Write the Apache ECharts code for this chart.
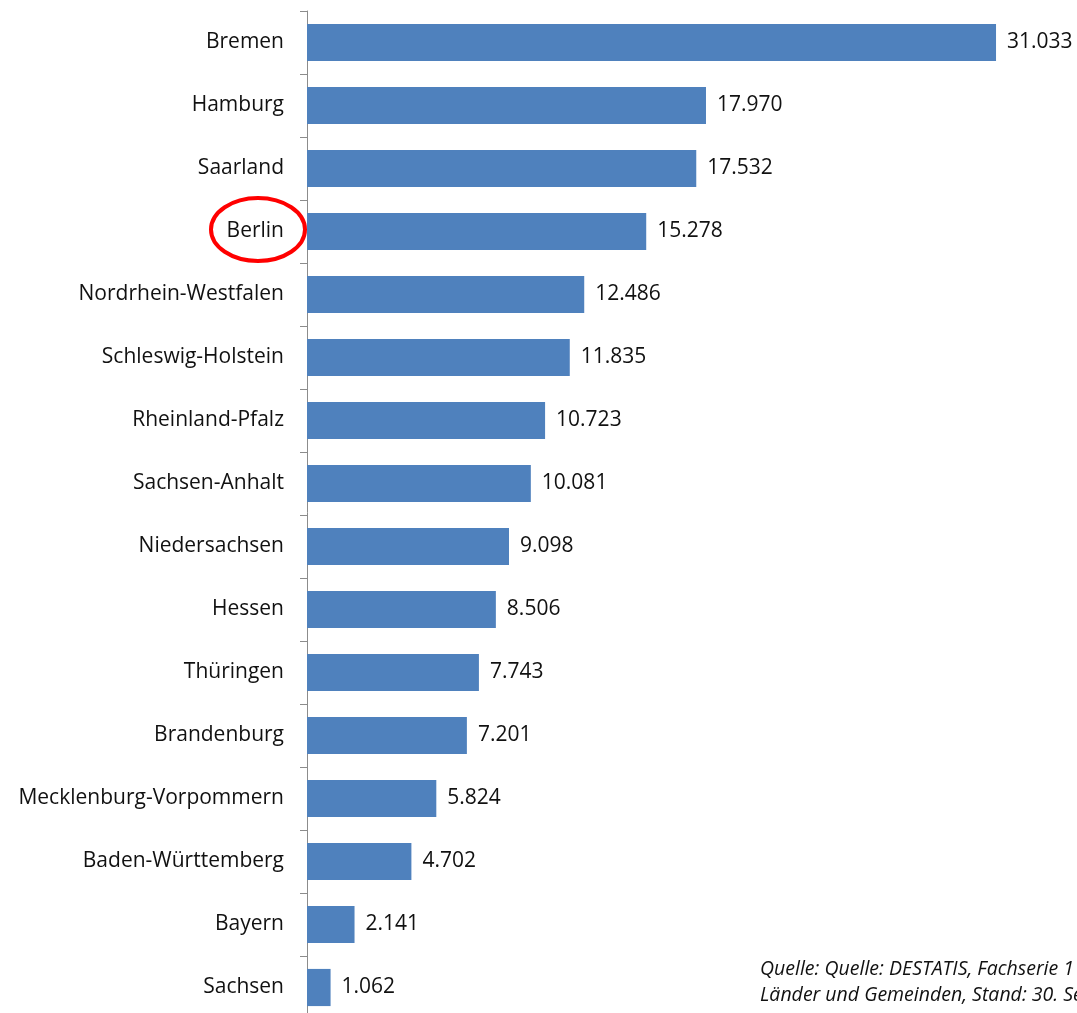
<!DOCTYPE html>
<html>
<head>
<meta charset="utf-8">
<script src="https://cdn.jsdelivr.net/npm/echarts@6/dist/echarts.min.js"></script>
<style>html,body{margin:0;padding:0;background:#fff;}#c{width:1077px;height:1013px;}</style>
</head>
<body>
<div id="c"></div>
<script>
const categories = ['Bremen','Hamburg','Saarland','Berlin','Nordrhein-Westfalen','Schleswig-Holstein','Rheinland-Pfalz','Sachsen-Anhalt','Niedersachsen','Hessen','Thüringen','Brandenburg','Mecklenburg-Vorpommern','Baden-Württemberg','Bayern','Sachsen'];
const values = [31033,17970,17532,15278,12486,11835,10723,10081,9098,8506,7743,7201,5824,4702,2141,1062];
const sourceLines = ['Quelle: Quelle: DESTATIS, Fachserie 1', 'Länder und Gemeinden, Stand: 30. Se'];
const highlighted = 'Berlin';

function fmt(v){ return String(v).replace(/\B(?=(\d{3})+(?!\d))/g,'.'); }
const FONT = '"Open Sans", sans-serif';
const chart = echarts.init(document.getElementById('c'));
chart.setOption({
  animation:false,
  grid:{left:307, top:11, height:1008, width:710.5, containLabel:false, outerBoundsMode:'none'},
  xAxis:{type:'value', min:0, max:32000, show:false},
  yAxis:{type:'category', inverse:true, data:categories,
    axisLine:{show:true, lineStyle:{color:'#8c8c8c', width:1}},
    axisTick:{show:true, length:7, lineStyle:{color:'#8c8c8c'}},
    axisLabel:{fontFamily:FONT, fontSize:21, color:'#111', margin:23}
  },
  series:[{type:'bar', data:values, barWidth:'59%', itemStyle:{color:'#4F81BD'},
    label:{show:true, position:'right', distance:11, fontFamily:FONT, fontSize:21, color:'#111', formatter:p=>fmt(p.value)}
  }]
});
const idx = categories.indexOf(highlighted);
const yc = chart.convertToPixel({yAxisIndex:0}, categories[idx]);
chart.setOption({graphic:[
  {type:'ellipse', shape:{cx:258, cy:yc-2, rx:47, ry:31.5}, style:{fill:'none', stroke:'#ff0000', lineWidth:4}},
  {type:'text', left:760, top:956, style:{text:sourceLines.join('\n'), fontFamily:FONT, fontStyle:'italic', fontSize:19.5, lineHeight:26, fill:'#111'}}
]});
</script>
</body>
</html>
